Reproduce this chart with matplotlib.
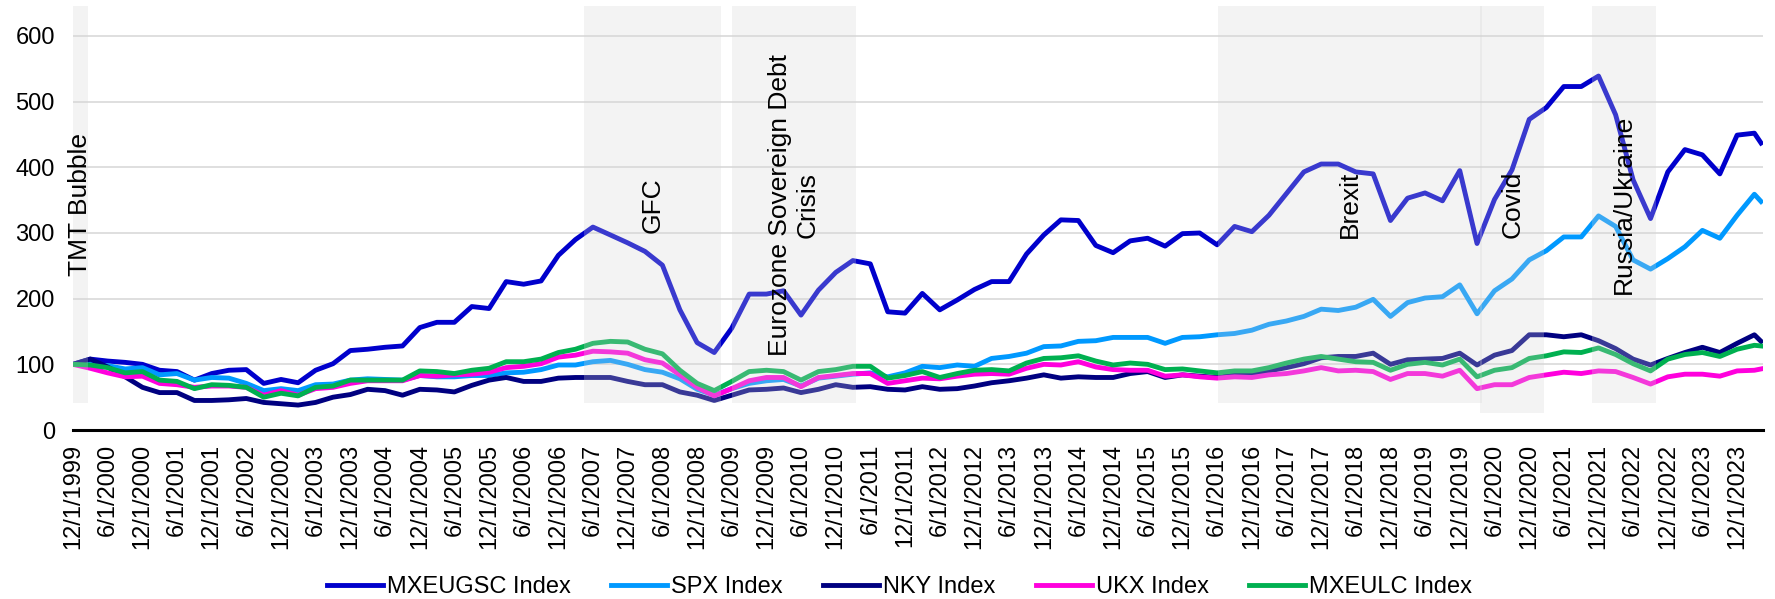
import matplotlib.pyplot as plt
import numpy as np
import pandas as pd

plt.rcParams['font.family'] = ['Liberation Sans', 'DejaVu Sans']

# quarterly dates, last point is a partial quarter
dates = list(pd.date_range('1999-12-01', '2024-03-01', freq='3MS')) + [pd.Timestamp('2024-04-05')]

mxeugsc = [100, 108, 105, 103, 100, 91, 89, 76, 86, 91, 92, 71, 77, 72, 91, 101, 121,
           123, 126, 128, 156, 164, 164, 188, 185, 226, 222, 227, 266, 290, 309, 297, 285, 272,
           251, 183, 133, 118, 155, 207, 207, 212, 175, 213, 240, 258, 253, 180, 178, 208, 183,
           198, 214, 226, 226, 268, 297, 320, 319, 281, 270, 288, 292, 280, 299, 300, 282,
           310, 302, 327, 360, 393, 405, 405, 393, 390, 319, 353, 361, 349, 395, 284, 351, 396,
           473, 491, 523, 523, 539, 480, 381, 322, 393, 427, 419, 390, 449, 452, 437]
spx = [100, 100, 98, 93, 95, 84, 86, 76, 80, 79, 71, 60, 63, 60, 69, 70, 76,
       78, 77, 76, 83, 81, 81, 83, 83, 87, 88, 92, 99, 99, 104, 106, 100, 92,
       88, 78, 62, 53, 63, 71, 75, 77, 67, 79, 82, 85, 87, 81, 87, 97, 95,
       99, 97, 109, 112, 117, 127, 128, 135, 136, 141, 141, 141, 132, 141, 142, 145,
       147, 152, 161, 166, 173, 184, 182, 187, 199, 173, 194, 201, 203, 221, 177, 212, 230,
       259, 273, 294, 294, 326, 310, 259, 245, 261, 279, 304, 292, 327, 359, 348]
nky = [100, 108, 96, 81, 65, 57, 57, 45, 45, 46, 48, 42, 40, 38, 42, 50, 54,
       62, 60, 53, 62, 61, 58, 68, 76, 80, 74, 74, 79, 80, 80, 80, 74, 69,
       69, 58, 53, 45, 53, 61, 62, 64, 57, 62, 69, 65, 66, 62, 61, 66, 62,
       63, 67, 72, 75, 79, 84, 79, 81, 80, 80, 86, 89, 80, 84, 82, 80,
       84, 86, 90, 95, 101, 110, 112, 112, 117, 100, 107, 108, 109, 117, 99, 114, 121,
       145, 145, 142, 145, 136, 124, 108, 99, 109, 118, 126, 118, 132, 145, 135]
ukx = [100, 94, 87, 81, 82, 71, 69, 65, 67, 67, 65, 53, 60, 53, 63, 65, 71,
       75, 75, 75, 83, 82, 84, 85, 88, 95, 97, 101, 111, 114, 120, 119, 117, 107,
       102, 84, 65, 52, 63, 75, 80, 80, 66, 80, 83, 86, 86, 71, 75, 79, 78,
       82, 85, 86, 85, 94, 100, 99, 104, 96, 92, 91, 91, 82, 84, 81, 79,
       81, 80, 84, 86, 90, 95, 90, 91, 89, 77, 86, 86, 82, 91, 63, 69, 69,
       80, 84, 88, 86, 90, 89, 80, 70, 81, 85, 85, 82, 90, 91, 93]
mxeulc = [100, 99, 95, 87, 89, 76, 74, 63, 69, 68, 65, 50, 56, 52, 65, 67, 76,
          76, 76, 76, 90, 89, 86, 91, 94, 104, 104, 108, 118, 123, 132, 135, 134, 123,
          116, 91, 71, 60, 74, 89, 91, 89, 76, 89, 92, 97, 97, 79, 83, 89, 80,
          86, 91, 92, 90, 102, 109, 110, 113, 105, 99, 102, 100, 92, 93, 90, 87,
          90, 90, 95, 102, 108, 112, 108, 104, 103, 91, 100, 103, 99, 108, 81, 91, 95,
          109, 113, 119, 118, 125, 115, 101, 90, 108, 115, 118, 112, 123, 129, 128]

names = ['MXEUGSC Index', 'SPX Index', 'NKY Index', 'UKX Index', 'MXEULC Index']
colors = ['#0000CC', '#0099FF', '#000080', '#FF00DD', '#00B050']

# shaded events
events = ['TMT Bubble', 'GFC', 'Eurozone Sovereign Debt\nCrisis', 'Brexit', 'Covid', 'Russia/Ukraine']
ev_start = ['1999-12-01', '2007-04-17', '2009-06-01', '2016-06-07', '2020-03-19', '2021-10-27']
ev_end = ['2000-02-18', '2009-04-07', '2011-03-20', '2020-03-26', '2021-02-19', '2022-09-29']
ev_bottom = [41, 41, 41, 41, 26, 41]

tick_dates = pd.date_range('1999-12-01', '2023-12-01', freq='6MS')
tick_labels = [f'{d.month}/{d.day}/{d.year}' for d in tick_dates]

fig = plt.figure(figsize=(17.75, 5.99), dpi=100)
ax = fig.add_axes([0.0411, 0.2821, 0.9521, 0.7072])

for series, name, c in zip([mxeugsc, spx, nky, ukx, mxeulc], names, colors):
    ax.plot(dates, series, color=c, lw=3.5, label=name, zorder=2)

top = 645
for lab, s, e, b in zip(events, ev_start, ev_end, ev_bottom):
    s, e = pd.Timestamp(s), pd.Timestamp(e)
    ax.fill_between([s, e], b, top, color='#d4d4d4', alpha=0.27, lw=0, zorder=3)
    mid = s + (e - s) / 2
    ax.text(mid, 343, lab, rotation=90, ha='center', va='center', fontsize=19,
            multialignment='center', zorder=4)

ax.set_ylim(0, top)
ax.set_xlim(dates[0], dates[-1] + pd.Timedelta(days=10))
ax.set_yticks([0, 100, 200, 300, 400, 500, 600])
for v in [100, 200, 300, 400, 500, 600]:
    ax.axhline(v, color='#d9d9d9', lw=1.2, zorder=0.5)
ax.axhline(0, color='black', lw=2.2, zorder=5, clip_on=False)
ax.set_xticks(tick_dates)
ax.set_xticklabels(tick_labels, rotation=90)
ax.tick_params(axis='x', length=0, pad=10, labelsize=17)
ax.tick_params(axis='y', length=0, pad=13, labelsize=17)
for sp in ax.spines.values():
    sp.set_visible(False)

fig.legend(loc='center', bbox_to_anchor=(0.5068, 0.02), ncol=5, frameon=False,
           fontsize=17, handlelength=2.37, handletextpad=0.17, columnspacing=1.7)

plt.savefig('out.png', dpi=100)
